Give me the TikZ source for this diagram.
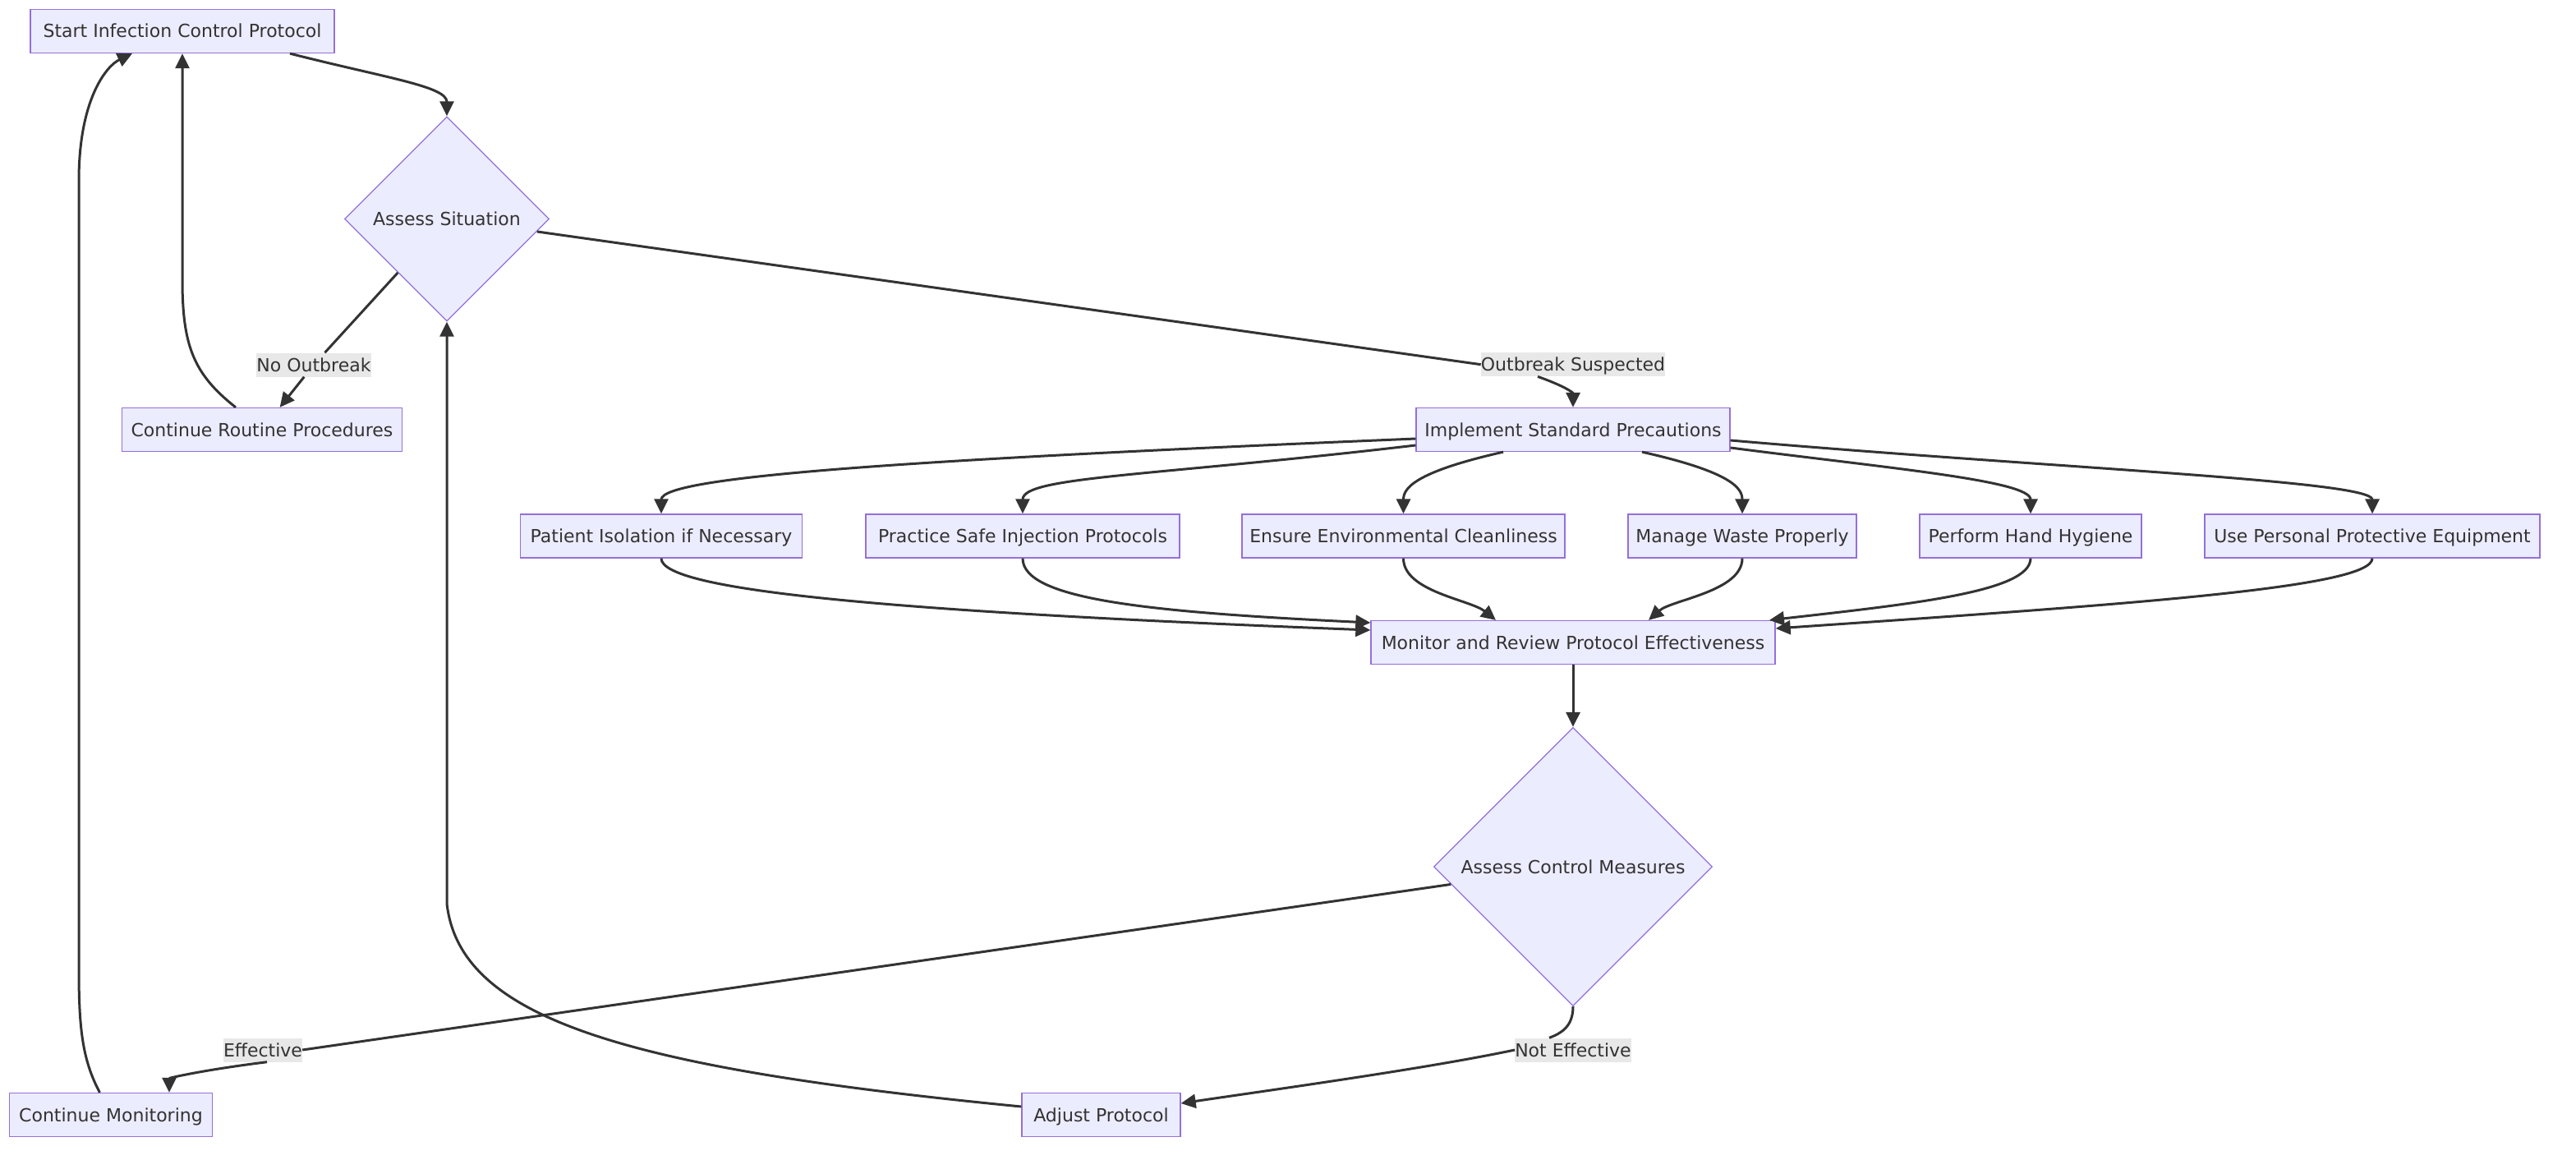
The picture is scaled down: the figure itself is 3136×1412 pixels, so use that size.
\documentclass[tikz,border=0pt]{standalone}
\usepackage{fontspec}
\setmainfont{DejaVu Sans}
\usetikzlibrary{arrows.meta,shapes.geometric}
\definecolor{NodeFill}{HTML}{ECECFF}
\definecolor{NodeLine}{HTML}{9370DB}
\definecolor{InkGray}{HTML}{333333}
\definecolor{TagFill}{HTML}{E8E8E8}

\begin{document}
\begin{tikzpicture}[x=1pt,y=-1pt,>={Triangle[length=18pt,width=17pt]},
    every node/.style={font=\fontsize{22}{26}\selectfont,text=InkGray},
    box/.style={draw=NodeLine,fill=NodeFill,line width=1.3pt,minimum height=53pt,
      inner sep=0pt,text height=21pt,text depth=5pt},
    decision/.style={diamond,aspect=1,draw=NodeLine,fill=NodeFill,line width=1.3pt,
      inner sep=0pt,text height=21pt,text depth=5pt},
    tag/.style={fill=TagFill,inner sep=0pt,minimum height=29pt,text height=21pt,text depth=5pt},
    flow/.style={draw=InkGray,line width=3pt}]
  \fill[white] (0,0) rectangle (3136,1412);
  \useasboundingbox (0,0) rectangle (3136,1412);

  \node[box,minimum width=370pt] (start) at (222,38) {Start Infection Control Protocol};
  \node[decision,minimum size=249pt] (sit) at (544,266.5) {Assess Situation};
  \node[box,minimum width=341pt] (routine) at (319,523) {Continue Routine Procedures};
  \node[box,minimum width=382pt] (impl) at (1915,523) {Implement Standard Precautions};
  \node[box,minimum width=343pt] (iso) at (805,652.5) {Patient Isolation if Necessary};
  \node[box,minimum width=382pt] (inj) at (1245,652.5) {Practice Safe Injection Protocols};
  \node[box,minimum width=393pt] (env) at (1708.5,652.5) {Ensure Environmental Cleanliness};
  \node[box,minimum width=278pt] (waste) at (2121,652.5) {Manage Waste Properly};
  \node[box,minimum width=270pt] (hyg) at (2472,652.5) {Perform Hand Hygiene};
  \node[box,minimum width=408pt] (ppe) at (2888,652.5) {Use Personal Protective Equipment};
  \node[box,minimum width=492pt] (mon) at (1915,782) {Monitor and Review Protocol Effectiveness};
  \node[decision,minimum size=339pt] (ctrl) at (1915,1055) {Assess Control Measures};
  \node[box,minimum width=247pt] (cmon) at (135,1357) {Continue Monitoring};
  \node[box,minimum width=193pt] (adj) at (1340.5,1357) {Adjust Protocol};

  \node[tag] (lno) at (382,444) {No Outbreak};
  \node[tag] (lout) at (1915,443.7) {Outbreak Suspected};
  \node[tag] (leff) at (320,1278) {Effective};
  \node[tag] (lnot) at (1915,1278) {Not Effective};

  \draw[flow,->] ([xshift=131pt]start.south) .. controls (470,95) and (544,105) .. (sit.north);
  \draw[flow] (sit) -- (lno);
  \draw[flow,->] (lno) -- (routine);
  \draw[flow] (sit) -- (lout.west);
  \draw[flow,->] ([xshift=-43pt]lout.south) .. controls (1905,470) and (1915,478) .. (impl.north);
  \draw[flow,->] ([xshift=-32pt]routine.north) .. controls (235,455) and (222,420) .. (222,340)
    -- (start.south);

  \draw[flow,->] ([yshift=-11pt]impl.west) .. controls (1100,560) and (805,580) .. (iso.north);
  \draw[flow,->] ([yshift=-19pt]impl.west) .. controls (1400,580) and (1245,580) .. (inj.north);
  \draw[flow,->] ([xshift=-85pt]impl.south) .. controls (1720,575) and (1708.5,595) .. (env.north);
  \draw[flow,->] ([xshift=84pt]impl.south) .. controls (2110,575) and (2121,595) .. (waste.north);
  \draw[flow,->] ([yshift=-22pt]impl.east) .. controls (2300,570) and (2472,585) .. (hyg.north);
  \draw[flow,->] ([yshift=-13pt]impl.east) .. controls (2500,570) and (2888,585) .. (ppe.north);

  \draw[flow,->] (iso.south) .. controls (805,720) and (1100,745) .. ([yshift=15pt]mon.west);
  \draw[flow,->] (inj.south) .. controls (1245,730) and (1400,745) .. ([yshift=24pt]mon.west);
  \draw[flow,->] (env.south) .. controls (1708.5,720) and (1790,730) .. ([xshift=-94pt]mon.north);
  \draw[flow,->] (waste.south) .. controls (2121,720) and (2035,730) .. ([xshift=92pt]mon.north);
  \draw[flow,->] (hyg.south) .. controls (2472,720) and (2330,735) .. ([xshift=239pt]mon.north);
  \draw[flow,->] (ppe.south) .. controls (2888,715) and (2600,735) .. ([yshift=17pt]mon.east);

  \draw[flow,->] (mon) -- (ctrl);
  \draw[flow] (ctrl) -- (leff.east);
  \draw[flow,->] ([xshift=5pt]leff.south) .. controls (250,1302) and (206,1312) .. ([xshift=71pt]cmon.north);
  \draw[flow] (ctrl.south) .. controls (1915,1250) and (1900,1258) .. ([xshift=-29pt]lnot.north);
  \draw[flow,->] (lnot.west) .. controls (1740,1300) and (1560,1325) .. ([yshift=14pt]adj.east);
  \draw[flow,->] ([yshift=10pt]adj.west) .. controls (760,1300) and (560,1240) .. (544,1100)
    -- (sit.south);
  \draw[flow,->] ([xshift=-13.5pt]cmon.north) .. controls (100,1290) and (96,1250) .. (96,1180)
    -- (96,220) .. controls (96,120) and (130,80) .. ([xshift=-61pt]start.south);
\end{tikzpicture}
\end{document}
